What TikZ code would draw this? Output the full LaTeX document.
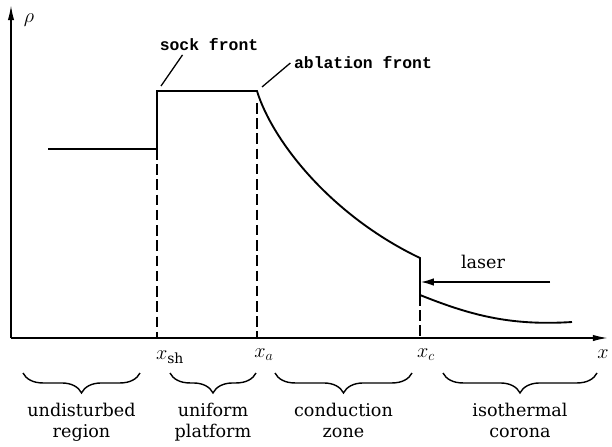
\documentclass[tikz,border=0pt]{standalone}
\usepackage{fontspec}
\setmainfont{DejaVu Serif}
\newfontfamily\frontfont{Liberation Mono}
\usetikzlibrary{arrows.meta,positioning,calc,decorations.pathreplacing}
\tikzset{>=latex}

\begin{document}
\begin{tikzpicture}[x=0.03cm,y=-0.03cm,
    axis/.style={line width=1.4pt,-{Latex[length=13pt,width=5.5pt]}},
    prof/.style={line width=1.6pt},
    guide/.style={line width=1.3pt,dash pattern=on 9pt off 4pt},
    lead/.style={line width=1.1pt},
    zonebrace/.style={decorate,decoration={brace,mirror,amplitude=17pt},line width=1.2pt},
    zonelab/.style={align=center,font=\fontsize{15}{18}\selectfont,inner sep=0pt},
    frontlab/.style={font=\frontfont\bfseries\fontsize{14}{16}\selectfont,inner sep=3pt},
    ticklab/.style={font=\fontsize{17}{19}\selectfont,inner sep=0pt}]
    \useasboundingbox (0,0) rectangle (612,447);
    % axes
    \coordinate (O) at (11,338);
    \draw [axis] (O) -- (11,5) coordinate (ytip);
    \draw [axis] (O) -- (608,338) coordinate (xtip);
    \node [ticklab] (rho) at (29,20) {$\rho$};
    \node [ticklab] (xlab) at (603,354) {$x$};
    % density profile
    \coordinate (lowstart) at (48,149);
    \coordinate (shock) at (157,149);
    \coordinate (shocktop) at (157,91);
    \coordinate (abl) at (257,91);
    \coordinate (crit) at (420,258);
    \coordinate (critlow) at (420,295);
    \coordinate (coronaend) at (572,322);
    \draw [prof] (lowstart) -- (shock) -- (shocktop) -- (abl)
      .. controls (272,140) and (330,215) .. (crit) -- (critlow)
      .. controls (470,315) and (510,326) .. (coronaend);
    % front positions
    \draw [guide] (shock) -- (shock |- O);
    \draw [guide] (257,103) -- (abl |- O);
    \draw [guide] (critlow) -- (critlow |- O);
    \node [ticklab] (xsh) at (170,357) {$x_{\mathrm{sh}}$};
    \node [ticklab] (xa) at (264,355) {$x_{a}$};
    \node [ticklab] (xc) at (426,355) {$x_{c}$};
    % fronts
    \node [frontlab] (sock) at (209,45) {sock front};
    \node [frontlab] (ablfront) at (363,63) {ablation front};
    \coordinate (sockpt) at (161,86);
    \coordinate (ablpt) at (262,87);
    \draw [lead] ($(sock.south west)!0.25!(sock.south east)$) -- (sockpt);
    \draw [lead] (ablfront.west) -- (ablpt);
    % laser
    \coordinate (laserstart) at (550,282);
    \coordinate (laserend) at (421,282);
    \draw [line width=1.2pt,-{Latex[length=11pt,width=6.5pt]}] (laserstart) -- (laserend);
    \node [zonelab] (laser) at (483,262) {laser};
    % zones
    \draw [zonebrace] (23,373) -- (140,373) node [midway,below=25pt,zonelab] (undist) {undisturbed\\region};
    \draw [zonebrace] (170,373) -- (256,373) node [midway,below=25pt,zonelab] (unif) {uniform\\platform};
    \draw [zonebrace] (275,373) -- (412,373) node [midway,below=25pt,zonelab] (cond) {conduction\\zone};
    \draw [zonebrace] (443,373) -- (597,373) node [midway,below=25pt,zonelab] (iso) {isothermal\\corona};
\end{tikzpicture}
\end{document}
